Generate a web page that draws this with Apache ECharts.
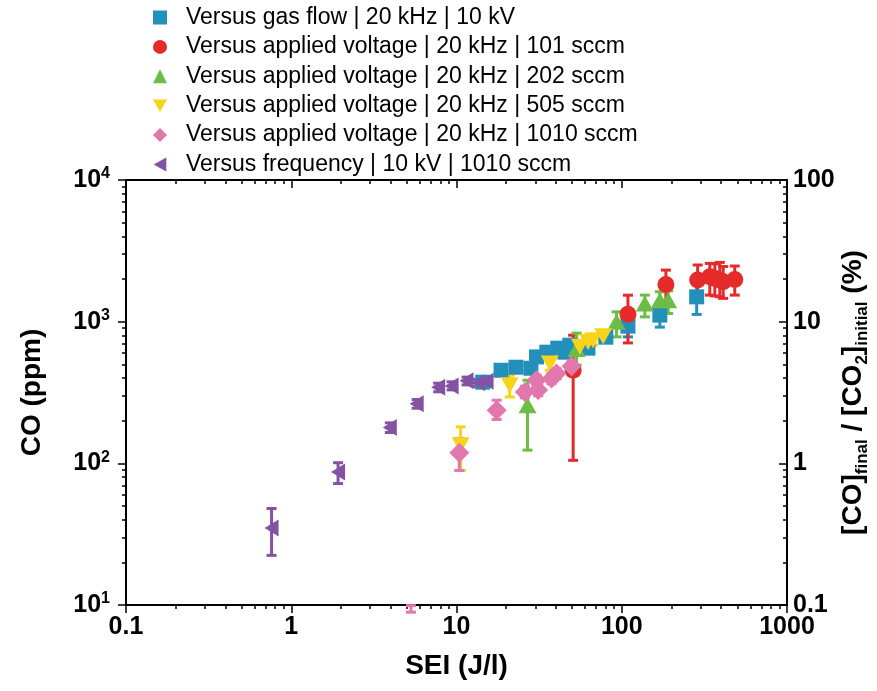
<!DOCTYPE html>
<html>
<head>
<meta charset="utf-8">
<title>CO versus SEI</title>
<script src="https://cdn.jsdelivr.net/npm/echarts@6/dist/echarts.min.js"></script>
<style>
  html, body { margin: 0; padding: 0; background: #fff; }
  #chart { width: 877px; height: 691px; }
</style>
</head>
<body>
<div id="chart"></div>
<script>
// CO 产量 vs SEI（双对数坐标）
var FONT = 'Liberation Sans, Arial, Helvetica, sans-serif';

// 图例名称
var seriesNames = [
    'Versus gas flow | 20 kHz | 10 kV',
    'Versus applied voltage | 20 kHz | 101 sccm',
    'Versus applied voltage | 20 kHz | 202 sccm',
    'Versus applied voltage | 20 kHz | 505 sccm',
    'Versus applied voltage | 20 kHz | 1010 sccm',
    'Versus frequency | 10 kV | 1010 sccm'
];

// 坐标轴刻度
var xTicks = [0.1, 1, 10, 100, 1000];
var yLeftTicks = [10, 100, 1000, 10000];
var yRightTicks = [0.1, 1, 10, 100];

// versus gas flow
var gasFlowSEI = [14.4, 18.6, 22.9, 28.2, 30.5, 35.2, 41.0, 45.3, 48.5, 62.4, 80.1, 109, 170, 284];
var gasFlowCO = [374, 454, 477, 469, 564, 609, 650, 609, 682, 650, 777, 930, 1112, 1497];
var gasFlowLow = [345, 420, 440, 432, 520, 560, 600, 560, 628, 600, 715, 781, 915, 1125];
var gasFlowHigh = [403, 488, 514, 506, 608, 658, 700, 658, 736, 700, 839, 1075, 1310, 1870];

// versus applied voltage, 101 sccm
var v101SEI = [50.8, 109, 185, 288, 341, 366, 392, 411, 483];
var v101CO = [454, 1130, 1830, 1966, 2074, 2020, 1966, 1911, 1988];
var v101Low = [105, 708, 1400, 1458, 1540, 1520, 1500, 1460, 1540];
var v101High = [803, 1538, 2312, 2512, 2578, 2560, 2620, 2450, 2470];

// versus applied voltage, 202 sccm
var v202SEI = [26.9, 53.3, 93, 138, 170, 191];
var v202CO = [257, 640, 997, 1344, 1419, 1419];
var v202Low = [124, 493, 781, 1081, 1112, 1143];
var v202High = [386, 830, 1173, 1540, 1625, 1651];

// versus applied voltage, 505 sccm
var v505SEI = [10.6, 21.0, 36.7, 55.8, 62.6, 67.0, 77.2];
var v505CO = [134, 356, 506, 664, 720, 740, 790];
var v505Low = [89, 294, 454, 610, 665, 685, 735];
var v505High = [181, 419, 570, 715, 775, 795, 845];

// versus applied voltage, 1010 sccm (第一个点低于 10 ppm，只露出误差线)
var v1010SEI = [5.3, 10.4, 17.5, 25.9, 30.5, 31.2, 37.6, 40.3, 49.7];
var v1010CO = [9, 119, 237, 319, 386, 330, 397, 430, 485];
var v1010Low = [8.9, 89, 204, 290, 355, 300, 365, 395, 445];
var v1010High = [9.9, 150, 279, 350, 420, 362, 430, 465, 525];

// versus frequency
var freqSEI = [0.76, 1.92, 3.95, 5.74, 7.75, 9.34, 11.5, 13.5, 15.2];
var freqCO = [35, 87, 179, 263, 344, 352, 382, 370, 380];
var freqLow = [22.4, 72, 165, 245, 320, 330, 358, 348, 358];
var freqHigh = [48, 101, 193, 282, 368, 376, 406, 392, 402];

// 对数次刻度 2..9
function minorTicks(majors) {
    var out = [];
    for (var i = 0; i < majors.length - 1; i++) {
        for (var k = 2; k <= 9; k++) out.push(+(majors[i] * k).toPrecision(6));
    }
    return out;
}

function numLabel(v) {
    return String(+(+v).toPrecision(6));
}

// 误差线
function errRender(params, api) {
    var x = api.value(0);
    var top = api.coord([x, api.value(2)]);
    var bot = api.coord([x, api.value(1)]);
    var w = 5;
    var style = { stroke: api.visual('color'), lineWidth: 3 };
    return {
        type: 'group',
        children: [
            { type: 'line', shape: { x1: top[0], y1: top[1], x2: bot[0], y2: bot[1] }, style: style },
            { type: 'line', shape: { x1: top[0] - w, y1: top[1], x2: top[0] + w, y2: top[1] }, style: style },
            { type: 'line', shape: { x1: bot[0] - w, y1: bot[1], x2: bot[0] + w, y2: bot[1] }, style: style }
        ]
    };
}

// 向下、向左的三角形（图例里也能正确显示）
var TRI_DOWN = 'path://M0,0L20,0L10,18Z';
var TRI_LEFT = 'path://M18,0L18,20L0,10Z';

var groups = [
    { sei: gasFlowSEI, co: gasFlowCO, lo: gasFlowLow, hi: gasFlowHigh, color: '#2390bb', symbol: 'rect', size: [15, 15] },
    { sei: v101SEI, co: v101CO, lo: v101Low, hi: v101High, color: '#e42b2a', symbol: 'circle', size: 17 },
    { sei: v202SEI, co: v202CO, lo: v202Low, hi: v202High, color: '#6bbd45', symbol: 'triangle', size: [18, 16] },
    { sei: v505SEI, co: v505CO, lo: v505Low, hi: v505High, color: '#f7d31b', symbol: TRI_DOWN, size: [18, 16] },
    { sei: v1010SEI, co: v1010CO, lo: v1010Low, hi: v1010High, color: '#e277ad', symbol: 'diamond', size: [20, 20] },
    { sei: freqSEI, co: freqCO, lo: freqLow, hi: freqHigh, color: '#8452a2', symbol: TRI_LEFT, size: [14, 17] }
];

var series = [];
groups.forEach(function (g, i) {
    series.push({
        name: 'err' + i,
        type: 'custom',
        xAxisIndex: 0,
        yAxisIndex: 0,
        itemStyle: { color: g.color },
        renderItem: errRender,
        silent: true,
        data: g.sei.map(function (s, j) { return [s, g.lo[j], g.hi[j]]; })
    });
    series.push({
        name: seriesNames[i],
        type: 'scatter',
        xAxisIndex: 0,
        yAxisIndex: 0,
        symbol: g.symbol,
        symbolSize: g.size,
        itemStyle: { color: g.color, opacity: 1 },
        data: g.sei.map(function (s, j) { return [s, g.co[j]]; })
    });
});

var axisLine = { show: true, lineStyle: { color: '#000', width: 2 } };
var tickStyle = { color: '#000', width: 1.5 };
var tickLabel = { fontFamily: FONT, fontSize: 25, fontWeight: 'bold', color: '#000' };

function majorAxis(base, opts) {
    return Object.assign({
        type: 'log',
        logBase: 10,
        splitLine: { show: false },
        axisLine: axisLine,
        axisTick: { show: true, length: 8, lineStyle: tickStyle },
        axisLabel: { show: false }
    }, base, opts);
}

function minorAxis(base, ticks, inside) {
    return Object.assign({
        type: 'log',
        logBase: 10,
        splitLine: { show: false },
        axisLine: { show: false },
        axisTick: { show: true, inside: inside, length: 4, lineStyle: tickStyle, customValues: ticks },
        axisLabel: { show: false }
    }, base);
}

var xBase = { min: 0.1, max: 1000 };
var yLeftBase = { min: 10, max: 10000 };
var yRightBase = { min: 0.1, max: 100 };

var chart = echarts.init(document.getElementById('chart'), null, { renderer: 'canvas' });
chart.setOption({
    backgroundColor: '#fff',
    animation: false,
    textStyle: { fontFamily: FONT },
    legend: {
        orient: 'vertical',
        left: 148,
        top: 1,
        itemWidth: 14,
        itemHeight: 14,
        itemGap: 6.4,
        data: seriesNames,
        textStyle: { fontFamily: FONT, fontSize: 23, lineHeight: 22, color: '#000', padding: [0, 0, 0, 14] }
    },
    grid: { left: 126, right: 90, top: 180, bottom: 86, outerBoundsMode: 'none', containLabel: false },
    xAxis: [
        majorAxis(xBase, {
            position: 'bottom',
            name: 'SEI (J/l)',
            nameLocation: 'middle',
            nameGap: 47,
            nameMoveOverlap: false,
            nameTextStyle: { fontFamily: FONT, fontSize: 28, fontWeight: 'bold', color: '#000' },
            axisTick: { show: true, length: 8, lineStyle: tickStyle, customValues: xTicks },
            axisLabel: Object.assign({ show: true, margin: 10, customValues: xTicks, formatter: numLabel }, tickLabel)
        }),
        minorAxis(Object.assign({ position: 'bottom' }, xBase), minorTicks(xTicks), false),
        majorAxis(xBase, {
            position: 'top',
            axisTick: { show: true, inside: true, length: 8, lineStyle: tickStyle, customValues: xTicks }
        }),
        minorAxis(Object.assign({ position: 'top' }, xBase), minorTicks(xTicks), true)
    ],
    yAxis: [
        majorAxis(yLeftBase, {
            position: 'left',
            name: 'CO (ppm)',
            nameLocation: 'middle',
            nameRotate: 90,
            nameGap: 80,
            nameMoveOverlap: false,
            nameTextStyle: { fontFamily: FONT, fontSize: 28, fontWeight: 'bold', color: '#000' },
            axisTick: { show: true, length: 8, lineStyle: tickStyle, customValues: yLeftTicks },
            axisLabel: {
                show: true,
                margin: 16,
                customValues: yLeftTicks,
                formatter: function (v) {
                    return '{b|10}{p|' + Math.round(Math.log10(v)) + '}';
                },
                rich: {
                    b: { fontFamily: FONT, fontSize: 25, fontWeight: 'bold', color: '#000', lineHeight: 28 },
                    p: { fontFamily: FONT, fontSize: 16, fontWeight: 'bold', color: '#000', lineHeight: 16, verticalAlign: 'top' }
                }
            }
        }),
        minorAxis(Object.assign({ position: 'left' }, yLeftBase), minorTicks(yLeftTicks), false),
        majorAxis(yRightBase, {
            position: 'right',
            name: '{m|[CO]}{s|final}{m| / [CO}{s|2}{m|]}{s|initial}{m| (%)}',
            nameLocation: 'middle',
            nameRotate: 90,
            nameGap: 52,
            nameMoveOverlap: false,
            nameTextStyle: {
                rich: {
                    m: { fontFamily: FONT, fontSize: 28, fontWeight: 'bold', color: '#000', lineHeight: 32, verticalAlign: 'top' },
                    s: { fontFamily: FONT, fontSize: 17, fontWeight: 'bold', color: '#000', lineHeight: 17, verticalAlign: 'bottom', padding: [18, 0, 0, 0] }
                }
            },
            axisTick: { show: true, inside: true, length: 8, lineStyle: tickStyle, customValues: yRightTicks },
            axisLabel: Object.assign({ show: true, margin: 6, customValues: yRightTicks, formatter: numLabel }, tickLabel)
        }),
        minorAxis(Object.assign({ position: 'right' }, yRightBase), minorTicks(yRightTicks), true)
    ],
    series: series
});
</script>
</body>
</html>
